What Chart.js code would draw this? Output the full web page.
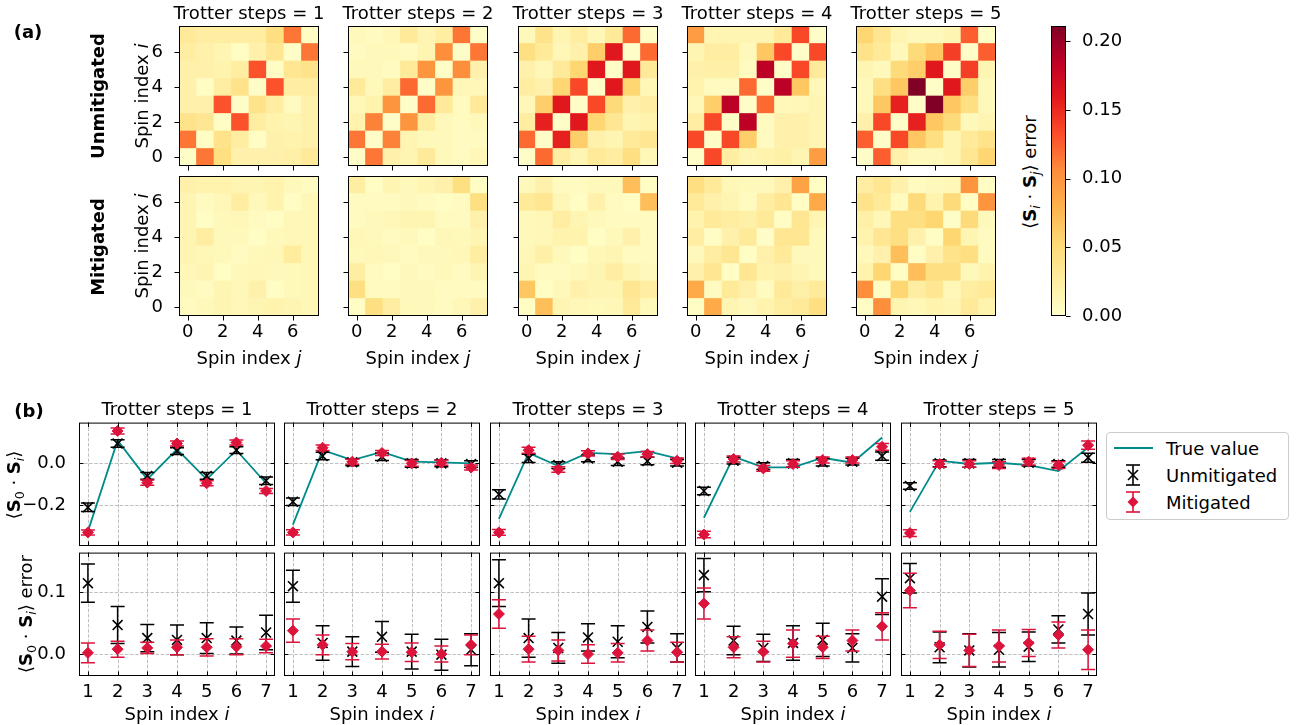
<!DOCTYPE html>
<html>
<head>
<meta charset="utf-8">
<script src="https://cdn.jsdelivr.net/npm/chart.js@4.4.0/dist/chart.umd.min.js"></script>
<style>
body { margin: 0; background: #fff; }
#fig { position: relative; width: 1301px; height: 725px; overflow: hidden; font-family: "DejaVu Sans"; }
canvas { position: absolute; }
.lbl { position: absolute; white-space: nowrap; font-size: 18px; color: #000; transform: translate(-50%, -50%); }
.rot { transform: translate(-50%, -50%) rotate(-90deg); }
.bold { font-weight: bold; }
sub { font-size: 70%; vertical-align: -0.25em; }
#legend { position: absolute; left: 1106px; top: 432px; width: 181px; height: 86px; border: 1px solid #cccccc; border-radius: 4px; background: #fff; }
</style>
</head>
<body>
<div id="fig"></div>
<script>
// ---- data ----
const trotterSteps = [1, 2, 3, 4, 5];
const spinIndex = [0, 1, 2, 3, 4, 5, 6, 7];
const heatTicks = [0, 2, 4, 6];
const colorbarTicks = [0, 0.05, 0.10, 0.15, 0.20];

// heatmap rows listed from i = 7 (top) down to i = 0, columns j = 0..7
const heatU1 = [
    [0.030, 0.025, 0.025, 0.025, 0.025, 0.045, 0.115, 0.005],
    [0.025, 0.020, 0.015, 0.005, 0.020, 0.035, 0.003, 0.115],
    [0.020, 0.020, 0.018, 0.025, 0.130, 0.005, 0.035, 0.040],
    [0.020, 0.005, 0.025, 0.040, 0.003, 0.130, 0.025, 0.025],
    [0.020, 0.020, 0.130, 0.003, 0.040, 0.025, 0.008, 0.020],
    [0.040, 0.035, 0.005, 0.130, 0.025, 0.018, 0.015, 0.020],
    [0.115, 0.005, 0.040, 0.025, 0.005, 0.020, 0.018, 0.020],
    [0.003, 0.115, 0.045, 0.020, 0.020, 0.020, 0.022, 0.030]
];
const heatU2 = [
    [0.010, 0.008, 0.012, 0.030, 0.015, 0.025, 0.115, 0.003],
    [0.008, 0.010, 0.010, 0.008, 0.015, 0.105, 0.003, 0.115],
    [0.010, 0.010, 0.008, 0.030, 0.100, 0.003, 0.105, 0.020],
    [0.030, 0.010, 0.025, 0.120, 0.003, 0.100, 0.012, 0.012],
    [0.012, 0.018, 0.100, 0.003, 0.120, 0.030, 0.008, 0.030],
    [0.018, 0.110, 0.003, 0.100, 0.025, 0.010, 0.008, 0.010],
    [0.115, 0.003, 0.110, 0.015, 0.010, 0.010, 0.008, 0.008],
    [0.003, 0.115, 0.020, 0.015, 0.030, 0.010, 0.008, 0.012]
];
const heatU3 = [
    [0.010, 0.040, 0.015, 0.025, 0.012, 0.030, 0.120, 0.003],
    [0.045, 0.030, 0.012, 0.020, 0.060, 0.160, 0.003, 0.120],
    [0.020, 0.012, 0.030, 0.055, 0.160, 0.003, 0.160, 0.030],
    [0.025, 0.020, 0.055, 0.135, 0.003, 0.160, 0.055, 0.012],
    [0.012, 0.060, 0.160, 0.003, 0.135, 0.050, 0.020, 0.025],
    [0.025, 0.155, 0.003, 0.160, 0.055, 0.035, 0.015, 0.018],
    [0.120, 0.003, 0.155, 0.060, 0.020, 0.015, 0.030, 0.035],
    [0.003, 0.120, 0.025, 0.015, 0.030, 0.025, 0.045, 0.012]
];
const heatU4 = [
    [0.095, 0.015, 0.015, 0.015, 0.015, 0.030, 0.135, 0.003],
    [0.015, 0.025, 0.025, 0.010, 0.065, 0.135, 0.003, 0.135],
    [0.020, 0.022, 0.022, 0.008, 0.185, 0.003, 0.135, 0.030],
    [0.018, 0.008, 0.008, 0.120, 0.003, 0.185, 0.065, 0.012],
    [0.012, 0.060, 0.185, 0.003, 0.120, 0.010, 0.012, 0.015],
    [0.025, 0.135, 0.003, 0.185, 0.008, 0.020, 0.020, 0.015],
    [0.135, 0.003, 0.135, 0.060, 0.008, 0.020, 0.020, 0.015],
    [0.003, 0.135, 0.025, 0.015, 0.018, 0.022, 0.015, 0.095]
];
const heatU5 = [
    [0.055, 0.035, 0.015, 0.010, 0.010, 0.015, 0.125, 0.003],
    [0.040, 0.030, 0.010, 0.050, 0.065, 0.140, 0.003, 0.125],
    [0.015, 0.010, 0.050, 0.060, 0.160, 0.003, 0.140, 0.015],
    [0.010, 0.045, 0.065, 0.211, 0.003, 0.160, 0.060, 0.010],
    [0.010, 0.065, 0.155, 0.003, 0.211, 0.065, 0.045, 0.010],
    [0.020, 0.135, 0.003, 0.155, 0.065, 0.050, 0.010, 0.015],
    [0.125, 0.003, 0.135, 0.065, 0.045, 0.015, 0.030, 0.040],
    [0.003, 0.125, 0.020, 0.010, 0.010, 0.015, 0.035, 0.055]
];
const heatM1 = [
    [0.020, 0.018, 0.018, 0.015, 0.015, 0.018, 0.010, 0.008],
    [0.015, 0.008, 0.012, 0.025, 0.010, 0.018, 0.005, 0.012],
    [0.015, 0.005, 0.010, 0.012, 0.008, 0.005, 0.012, 0.012],
    [0.015, 0.025, 0.010, 0.010, 0.005, 0.010, 0.012, 0.012],
    [0.015, 0.012, 0.010, 0.008, 0.010, 0.012, 0.028, 0.012],
    [0.012, 0.015, 0.005, 0.010, 0.012, 0.010, 0.010, 0.012],
    [0.010, 0.008, 0.015, 0.012, 0.020, 0.005, 0.010, 0.012],
    [0.008, 0.010, 0.015, 0.012, 0.015, 0.018, 0.015, 0.012]
];
const heatM2 = [
    [0.025, 0.005, 0.015, 0.010, 0.015, 0.020, 0.045, 0.005],
    [0.008, 0.008, 0.008, 0.010, 0.008, 0.005, 0.008, 0.045],
    [0.008, 0.010, 0.012, 0.015, 0.015, 0.008, 0.008, 0.020],
    [0.012, 0.010, 0.008, 0.010, 0.005, 0.012, 0.010, 0.015],
    [0.010, 0.012, 0.010, 0.008, 0.010, 0.010, 0.012, 0.025],
    [0.025, 0.008, 0.005, 0.010, 0.008, 0.010, 0.008, 0.015],
    [0.045, 0.008, 0.008, 0.010, 0.010, 0.008, 0.008, 0.008],
    [0.005, 0.045, 0.025, 0.010, 0.010, 0.008, 0.012, 0.020]
];
const heatM3 = [
    [0.010, 0.020, 0.008, 0.008, 0.010, 0.010, 0.070, 0.005],
    [0.030, 0.035, 0.012, 0.005, 0.020, 0.008, 0.005, 0.070],
    [0.010, 0.012, 0.025, 0.015, 0.010, 0.008, 0.008, 0.008],
    [0.010, 0.012, 0.018, 0.018, 0.005, 0.010, 0.020, 0.008],
    [0.012, 0.022, 0.010, 0.005, 0.012, 0.015, 0.008, 0.008],
    [0.015, 0.008, 0.008, 0.010, 0.015, 0.025, 0.015, 0.010],
    [0.065, 0.005, 0.010, 0.020, 0.015, 0.015, 0.035, 0.025],
    [0.005, 0.070, 0.015, 0.012, 0.010, 0.012, 0.030, 0.010]
];
const heatM4 = [
    [0.045, 0.030, 0.012, 0.010, 0.010, 0.020, 0.090, 0.005],
    [0.030, 0.020, 0.015, 0.008, 0.025, 0.035, 0.005, 0.085],
    [0.018, 0.030, 0.025, 0.022, 0.030, 0.005, 0.035, 0.015],
    [0.025, 0.005, 0.020, 0.030, 0.003, 0.035, 0.035, 0.010],
    [0.010, 0.025, 0.035, 0.005, 0.020, 0.030, 0.010, 0.010],
    [0.020, 0.035, 0.005, 0.035, 0.018, 0.020, 0.015, 0.010],
    [0.085, 0.008, 0.030, 0.020, 0.008, 0.030, 0.022, 0.030],
    [0.005, 0.085, 0.015, 0.010, 0.018, 0.025, 0.030, 0.045]
];
const heatM5 = [
    [0.025, 0.035, 0.020, 0.008, 0.010, 0.012, 0.100, 0.005],
    [0.040, 0.030, 0.008, 0.050, 0.018, 0.050, 0.005, 0.100],
    [0.022, 0.012, 0.045, 0.045, 0.055, 0.003, 0.050, 0.010],
    [0.018, 0.035, 0.045, 0.020, 0.005, 0.055, 0.015, 0.008],
    [0.010, 0.020, 0.070, 0.005, 0.020, 0.040, 0.045, 0.008],
    [0.018, 0.055, 0.005, 0.070, 0.045, 0.045, 0.010, 0.018],
    [0.105, 0.005, 0.055, 0.025, 0.035, 0.012, 0.025, 0.030],
    [0.005, 0.105, 0.015, 0.012, 0.018, 0.015, 0.030, 0.018]
];
const heatUnmitigated = [heatU1, heatU2, heatU3, heatU4, heatU5];
const heatMitigated = [heatM1, heatM2, heatM3, heatM4, heatM5];

// part (b): one row per Trotter step, spin index i = 1..7
const spinI = [1, 2, 3, 4, 5, 6, 7];
const corrTicks = [-0.2, 0.0];
const errTicks = [0.0, 0.1];
const trueValue = [
    [-0.325, 0.110, -0.076, 0.067, -0.076, 0.063, -0.095],
    [-0.293, 0.063, 0.016, 0.055, 0.008, 0.005, 0.000],
    [-0.265, 0.050, -0.013, 0.050, 0.044, 0.059, 0.024],
    [-0.260, 0.032, -0.019, -0.019, 0.027, 0.003, 0.124],
    [-0.232, 0.013, -0.003, 0.003, -0.008, -0.037, 0.076]
];
const unmitValue = [
    [-0.210, 0.095, -0.060, 0.059, -0.060, 0.063, -0.083],
    [-0.183, 0.035, 0.005, 0.032, 0.000, 0.000, -0.003],
    [-0.148, 0.024, -0.008, 0.024, 0.008, 0.011, 0.003],
    [-0.132, 0.013, -0.013, 0.000, 0.005, 0.008, 0.035],
    [-0.108, 0.000, 0.000, 0.000, 0.003, -0.003, 0.027]
];
const unmitValueErr = [
    [0.020, 0.018, 0.016, 0.016, 0.016, 0.016, 0.018],
    [0.018, 0.018, 0.016, 0.018, 0.018, 0.016, 0.016],
    [0.022, 0.020, 0.016, 0.016, 0.018, 0.018, 0.016],
    [0.018, 0.016, 0.016, 0.018, 0.018, 0.016, 0.020],
    [0.016, 0.016, 0.018, 0.018, 0.016, 0.016, 0.022]
];
const mitValue = [
    [-0.330, 0.155, -0.092, 0.095, -0.095, 0.100, -0.132],
    [-0.330, 0.075, 0.008, 0.050, 0.000, 0.003, -0.020],
    [-0.330, 0.063, -0.029, 0.048, 0.032, 0.044, 0.013],
    [-0.340, 0.021, -0.024, -0.003, 0.016, 0.016, 0.079],
    [-0.333, -0.003, -0.003, -0.008, 0.008, -0.008, 0.087]
];
const mitValueErr = [
    [0.012, 0.014, 0.012, 0.012, 0.012, 0.012, 0.012],
    [0.013, 0.013, 0.012, 0.012, 0.014, 0.012, 0.012],
    [0.014, 0.014, 0.013, 0.013, 0.013, 0.013, 0.013],
    [0.016, 0.014, 0.014, 0.016, 0.014, 0.014, 0.016],
    [0.016, 0.016, 0.016, 0.016, 0.016, 0.016, 0.020]
];
const unmitError = [
    [0.115, 0.047, 0.026, 0.023, 0.026, 0.022, 0.035],
    [0.110, 0.018, 0.004, 0.028, 0.004, -0.001, 0.007],
    [0.115, 0.026, 0.010, 0.027, 0.020, 0.044, 0.010],
    [0.128, 0.022, 0.010, 0.018, 0.023, 0.010, 0.093],
    [0.123, 0.011, 0.006, 0.007, 0.012, 0.040, 0.065]
];
const unmitErrorErr = [
    [0.031, 0.030, 0.022, 0.024, 0.025, 0.022, 0.028],
    [0.026, 0.028, 0.024, 0.025, 0.028, 0.025, 0.026],
    [0.038, 0.031, 0.025, 0.022, 0.026, 0.026, 0.023],
    [0.027, 0.023, 0.022, 0.028, 0.027, 0.023, 0.029],
    [0.024, 0.025, 0.027, 0.028, 0.024, 0.022, 0.034]
];
const mitError = [
    [0.002, 0.008, 0.010, 0.011, 0.011, 0.012, 0.013],
    [0.038, 0.015, 0.004, 0.004, 0.003, 0.000, 0.015],
    [0.065, 0.008, 0.006, 0.000, 0.002, 0.022, 0.003],
    [0.082, 0.011, 0.004, 0.017, 0.011, 0.022, 0.045],
    [0.103, 0.015, 0.006, 0.013, 0.018, 0.031, 0.007]
];
const mitErrorErr = [
    [0.016, 0.013, 0.009, 0.012, 0.014, 0.013, 0.011],
    [0.019, 0.016, 0.013, 0.012, 0.015, 0.013, 0.016],
    [0.023, 0.021, 0.017, 0.015, 0.015, 0.017, 0.016],
    [0.025, 0.017, 0.017, 0.022, 0.018, 0.017, 0.022],
    [0.028, 0.022, 0.026, 0.026, 0.022, 0.021, 0.032]
];

// ---- layout ----
const HM_LEFT = [179, 348, 518, 687, 856];
const HM_TOP = [26, 176];
const HM_SIZE = 140;
const PANEL_LEFT = [79, 284, 490, 695, 901];
const PANEL_W = 196;
const PANEL_TOP = [422, 552];
const PANEL_H = 124;
const TEAL = '#008b8b';
const CRIMSON = '#dc143c';

Chart.defaults.font.family = 'DejaVu Sans';
Chart.defaults.font.size = 18;
Chart.defaults.color = '#000';

const fig = document.getElementById('fig');

const YLORRD = ['#ffffcc', '#ffeda0', '#fed976', '#feb24c', '#fd8d3c', '#fc4e2a', '#e31a1c', '#bd0026', '#800026'];
function hexRgb(h) {
    return [1, 3, 5].map(k => parseInt(h.substr(k, 2), 16));
}
function cmap(t) {
    t = Math.max(0, Math.min(1, t));
    const p = t * 8;
    const k = Math.min(7, Math.floor(p));
    const f = p - k;
    const a = hexRgb(YLORRD[k]), b = hexRgb(YLORRD[k + 1]);
    const c = a.map((v, n) => Math.round(v + (b[n] - v) * f));
    return `rgb(${c[0]},${c[1]},${c[2]})`;
}

const vmax = Math.max(...heatUnmitigated.concat(heatMitigated).flat(2));

function makeCanvas(x, y, w, h) {
    const c = document.createElement('canvas');
    c.width = w;
    c.height = h;
    c.style.left = x + 'px';
    c.style.top = y + 'px';
    fig.appendChild(c);
    return c.getContext('2d');
}

function label(html, x, y, cls) {
    const d = document.createElement('div');
    d.className = 'lbl ' + (cls || '');
    d.style.left = x + 'px';
    d.style.top = y + 'px';
    d.innerHTML = html;
    fig.appendChild(d);
}

// fixed axis box size, no extra room for overhanging labels
function fixSize(size) {
    return s => {
        if (s.isHorizontal()) s.height = size; else s.width = size;
        s.paddingTop = s.paddingBottom = s.paddingLeft = s.paddingRight = 0;
    };
}

// frame, ticks and dashed grid in matplotlib style
const framePlugin = {
    id: 'frame',
    beforeDatasetsDraw(chart, args, opts) {
        if (!opts.grid) return;
        const {ctx, chartArea: a, scales: {x, y}} = chart;
        ctx.save();
        ctx.strokeStyle = '#b0b0b0';
        ctx.lineWidth = 0.8;
        ctx.setLineDash([3.5, 1.6]);
        ctx.beginPath();
        x.ticks.forEach(t => {
            const px = Math.round(x.getPixelForValue(t.value)) + 0.5;
            ctx.moveTo(px, a.top);
            ctx.lineTo(px, a.bottom);
        });
        y.ticks.forEach(t => {
            const py = Math.round(y.getPixelForValue(t.value)) + 0.5;
            ctx.moveTo(a.left, py);
            ctx.lineTo(a.right, py);
        });
        ctx.stroke();
        ctx.restore();
    },
    afterDraw(chart, args, opts) {
        const {ctx, chartArea: a, scales: {x, y}} = chart;
        const len = opts.inward ? -4.5 : 4.5;
        ctx.save();
        ctx.strokeStyle = '#000';
        ctx.lineWidth = 1;
        ctx.setLineDash([]);
        ctx.strokeRect(a.left + 0.5, a.top + 0.5, a.right - a.left - 1, a.bottom - a.top - 1);
        ctx.beginPath();
        (opts.sides || []).forEach(side => {
            if (side === 'bottom' || side === 'top') {
                x.ticks.forEach(t => {
                    const px = Math.round(x.getPixelForValue(t.value)) + 0.5;
                    const y0 = side === 'bottom' ? a.bottom : a.top;
                    const d = side === 'bottom' ? len : -len;
                    ctx.moveTo(px, y0);
                    ctx.lineTo(px, y0 + d);
                });
            } else {
                y.ticks.forEach(t => {
                    const py = Math.round(y.getPixelForValue(t.value)) + 0.5;
                    const x0 = side === 'left' ? a.left : a.right;
                    const d = side === 'left' ? -len : len;
                    ctx.moveTo(x0, py);
                    ctx.lineTo(x0 + d, py);
                });
            }
        });
        ctx.stroke();
        ctx.restore();
    }
};

// vertical error bars with caps, drawn under each dataset's markers
const errorBarPlugin = {
    id: 'errorBars',
    beforeDatasetDraw(chart, args) {
        const ds = chart.data.datasets[args.index];
        if (!ds.errors) return;
        const {ctx, chartArea: a, scales: {x, y}} = chart;
        ctx.save();
        ctx.beginPath();
        ctx.rect(a.left, a.top, a.right - a.left, a.bottom - a.top);
        ctx.clip();
        ctx.strokeStyle = ds.errorColor;
        ctx.lineWidth = 1.5;
        ctx.beginPath();
        ds.data.forEach((p, k) => {
            const px = x.getPixelForValue(p.x);
            const lo = y.getPixelForValue(p.y - ds.errors[k]);
            const hi = y.getPixelForValue(p.y + ds.errors[k]);
            ctx.moveTo(px, lo);
            ctx.lineTo(px, hi);
            ctx.moveTo(px - 7, lo);
            ctx.lineTo(px + 7, lo);
            ctx.moveTo(px - 7, hi);
            ctx.lineTo(px + 7, hi);
        });
        ctx.stroke();
        ctx.restore();
    }
};

function heatmap(col, row, grid) {
    const L = 45, T = 6, R = 6, B = 34;
    const x0 = HM_LEFT[col], y0 = HM_TOP[row];
    const ctx = makeCanvas(x0 - L, y0 - T, HM_SIZE + L + R, HM_SIZE + T + B);
    const datasets = spinIndex.map(i => ({
        data: spinIndex.map(j => ({x: j, y: [i - 0.5, i + 0.5]})),
        backgroundColor: spinIndex.map(j => cmap(grid[7 - i][j] / vmax)),
        borderWidth: 0,
        grouped: false,
        barPercentage: 1,
        categoryPercentage: 1
    }));
    new Chart(ctx, {
        type: 'bar',
        data: {datasets},
        options: {
            responsive: false,
            animation: false,
            devicePixelRatio: 1,
            events: [],
            layout: {padding: {top: T, right: R, left: 0, bottom: 0}},
            plugins: {
                legend: {display: false},
                tooltip: {enabled: false},
                frame: {inward: false, sides: ['left', 'bottom']}
            },
            scales: {
                x: {
                    type: 'linear', min: -0.5, max: 7.5, offset: false,
                    grid: {display: false}, border: {display: false},
                    afterBuildTicks: s => { s.ticks = heatTicks.map(v => ({value: v})); },
                    ticks: {display: row === 1, padding: -2, maxRotation: 0, callback: v => String(v)},
                    afterFit: fixSize(B)
                },
                y: {
                    type: 'linear', min: -0.5, max: 7.5,
                    grid: {display: false}, border: {display: false},
                    afterBuildTicks: s => { s.ticks = heatTicks.map(v => ({value: v})); },
                    ticks: {display: col === 0, padding: 8, callback: v => String(v)},
                    afterFit: fixSize(L)
                }
            }
        },
        plugins: [framePlugin]
    });
}

function colorbar() {
    const L = 4, T = 10, R = 60, B = 14;
    const x0 = 1051, y0 = 26, w = 15, h = 290;
    const ctx = makeCanvas(x0 - L, y0 - T, w + L + R, h + T + B);
    new Chart(ctx, {
        type: 'bar',
        data: {
            labels: [''],
            datasets: [{
                data: [[0, vmax]],
                borderWidth: 0,
                barPercentage: 1,
                categoryPercentage: 1,
                backgroundColor: c => {
                    const a = c.chart.chartArea;
                    if (!a) return YLORRD[0];
                    const g = c.chart.ctx.createLinearGradient(0, a.bottom, 0, a.top);
                    YLORRD.forEach((col, k) => g.addColorStop(k / 8, col));
                    return g;
                }
            }]
        },
        options: {
            responsive: false,
            animation: false,
            devicePixelRatio: 1,
            events: [],
            layout: {padding: {top: T, right: 0, left: L, bottom: B}},
            plugins: {
                legend: {display: false},
                tooltip: {enabled: false},
                frame: {inward: false, sides: ['right']}
            },
            scales: {
                x: {display: false},
                y: {
                    position: 'right', min: 0, max: vmax,
                    grid: {display: false}, border: {display: false},
                    afterBuildTicks: s => { s.ticks = colorbarTicks.map(v => ({value: v})); },
                    ticks: {padding: 8, callback: v => v.toFixed(2)},
                    afterFit: fixSize(R)
                }
            }
        },
        plugins: [framePlugin]
    });
}

function fmt(v) {
    if (Math.abs(v) < 1e-9) return '0.0';
    return (v < 0 ? '\u2212' : '') + Math.abs(v).toFixed(1);
}

function panel(col, row) {
    const L = 66, T = 8, R = 10, B = 30;
    const x0 = PANEL_LEFT[col], y0 = PANEL_TOP[row];
    const ctx = makeCanvas(x0 - L, y0 - T, PANEL_W + L + R, PANEL_H + T + B);
    const top = row === 0;
    const uVals = top ? unmitValue[col] : unmitError[col];
    const uErrs = top ? unmitValueErr[col] : unmitErrorErr[col];
    const mVals = top ? mitValue[col] : mitError[col];
    const mErrs = top ? mitValueErr[col] : mitErrorErr[col];
    const datasets = [];
    if (top) {
        datasets.push({
            label: 'True value',
            data: spinI.map((s, k) => ({x: s, y: trueValue[col][k]})),
            showLine: true,
            borderColor: TEAL,
            borderWidth: 1.8,
            pointRadius: 0,
            order: 2
        });
    }
    datasets.push({
        label: 'Unmitigated',
        data: spinI.map((s, k) => ({x: s, y: uVals[k]})),
        errors: uErrs,
        errorColor: '#000',
        pointStyle: 'crossRot',
        pointRadius: 7,
        borderColor: '#000',
        borderWidth: 1.6,
        order: 1
    });
    datasets.push({
        label: 'Mitigated',
        data: spinI.map((s, k) => ({x: s, y: mVals[k]})),
        errors: mErrs,
        errorColor: CRIMSON,
        pointStyle: 'rectRot',
        pointRadius: 5.5,
        backgroundColor: CRIMSON,
        borderColor: CRIMSON,
        borderWidth: 1,
        order: 0
    });
    new Chart(ctx, {
        type: 'scatter',
        data: {datasets},
        options: {
            responsive: false,
            animation: false,
            devicePixelRatio: 1,
            events: [],
            layout: {padding: {top: T, right: R, left: 0, bottom: 0}},
            plugins: {
                legend: {display: false},
                tooltip: {enabled: false},
                frame: {inward: true, grid: true, sides: ['left', 'right', 'top', 'bottom']}
            },
            scales: {
                x: {
                    type: 'linear', min: 0.7, max: 7.3,
                    grid: {display: false}, border: {display: false},
                    afterBuildTicks: s => { s.ticks = spinI.map(v => ({value: v})); },
                    ticks: {display: !top, padding: -2, maxRotation: 0, callback: v => String(v)},
                    afterFit: fixSize(B)
                },
                y: {
                    type: 'linear',
                    min: top ? -0.395 : -0.0355,
                    max: top ? 0.195 : 0.1645,
                    grid: {display: false}, border: {display: false},
                    afterBuildTicks: s => { s.ticks = (top ? corrTicks : errTicks).map(v => ({value: v})); },
                    ticks: {display: col === 0, padding: 5, callback: v => fmt(v)},
                    afterFit: fixSize(L)
                }
            }
        },
        plugins: [framePlugin, errorBarPlugin]
    });
}

// ---- part (a) ----
trotterSteps.forEach((s, k) => {
    heatmap(k, 0, heatUnmitigated[k]);
    heatmap(k, 1, heatMitigated[k]);
    label(`Trotter steps = ${s}`, HM_LEFT[k] + HM_SIZE / 2, 12);
    label('Spin index <i>j</i>', HM_LEFT[k] + HM_SIZE / 2, 357);
});
colorbar();
label('(a)', 28, 31, 'bold');
label('Unmitigated', 97, 96, 'rot bold');
label('Mitigated', 97, 247, 'rot bold');
label('Spin index <i>i</i>', 141, 96, 'rot');
label('Spin index <i>i</i>', 141, 246, 'rot');
label('\u27e8<b>S</b><sub><i>i</i></sub> \u00b7 <b>S</b><sub><i>j</i></sub>\u27e9 error', 1031, 172, 'rot');

// ---- part (b) ----
trotterSteps.forEach((s, k) => {
    panel(k, 0);
    panel(k, 1);
    label(`Trotter steps = ${s}`, PANEL_LEFT[k] + PANEL_W / 2, 408);
    label('Spin index <i>i</i>', PANEL_LEFT[k] + PANEL_W / 2, 713);
});
label('(b)', 29, 410, 'bold');
label('\u27e8<b>S</b><sub>0</sub> \u00b7 <b>S</b><sub><i>i</i></sub>\u27e9', 15, 485, 'rot');
label('\u27e8<b>S</b><sub>0</sub> \u00b7 <b>S</b><sub><i>i</i></sub>\u27e9 error', 27, 614, 'rot');

// legend
const legend = document.createElement('div');
legend.id = 'legend';
legend.innerHTML = `
<svg width="181" height="86" style="position:absolute;left:0;top:0">
  <line x1="7" y1="15" x2="46" y2="15" stroke="${TEAL}" stroke-width="1.8"/>
  <g stroke="#000" stroke-width="1.6">
    <line x1="26" y1="32" x2="26" y2="52"/><line x1="19" y1="32" x2="33" y2="32"/><line x1="19" y1="52" x2="33" y2="52"/>
    <line x1="21" y1="37" x2="31" y2="47"/><line x1="31" y1="37" x2="21" y2="47"/>
  </g>
  <g stroke="${CRIMSON}" stroke-width="1.6">
    <line x1="26" y1="59" x2="26" y2="79"/><line x1="19" y1="59" x2="33" y2="59"/><line x1="19" y1="79" x2="33" y2="79"/>
  </g>
  <polygon points="26,63.5 31.5,69 26,74.5 20.5,69" fill="${CRIMSON}"/>
</svg>
<div class="lbl" style="left:59px;top:15px;transform:translate(0,-50%)">True value</div>
<div class="lbl" style="left:59px;top:42px;transform:translate(0,-50%)">Unmitigated</div>
<div class="lbl" style="left:59px;top:69px;transform:translate(0,-50%)">Mitigated</div>`;
fig.appendChild(legend);
</script>
</body>
</html>
